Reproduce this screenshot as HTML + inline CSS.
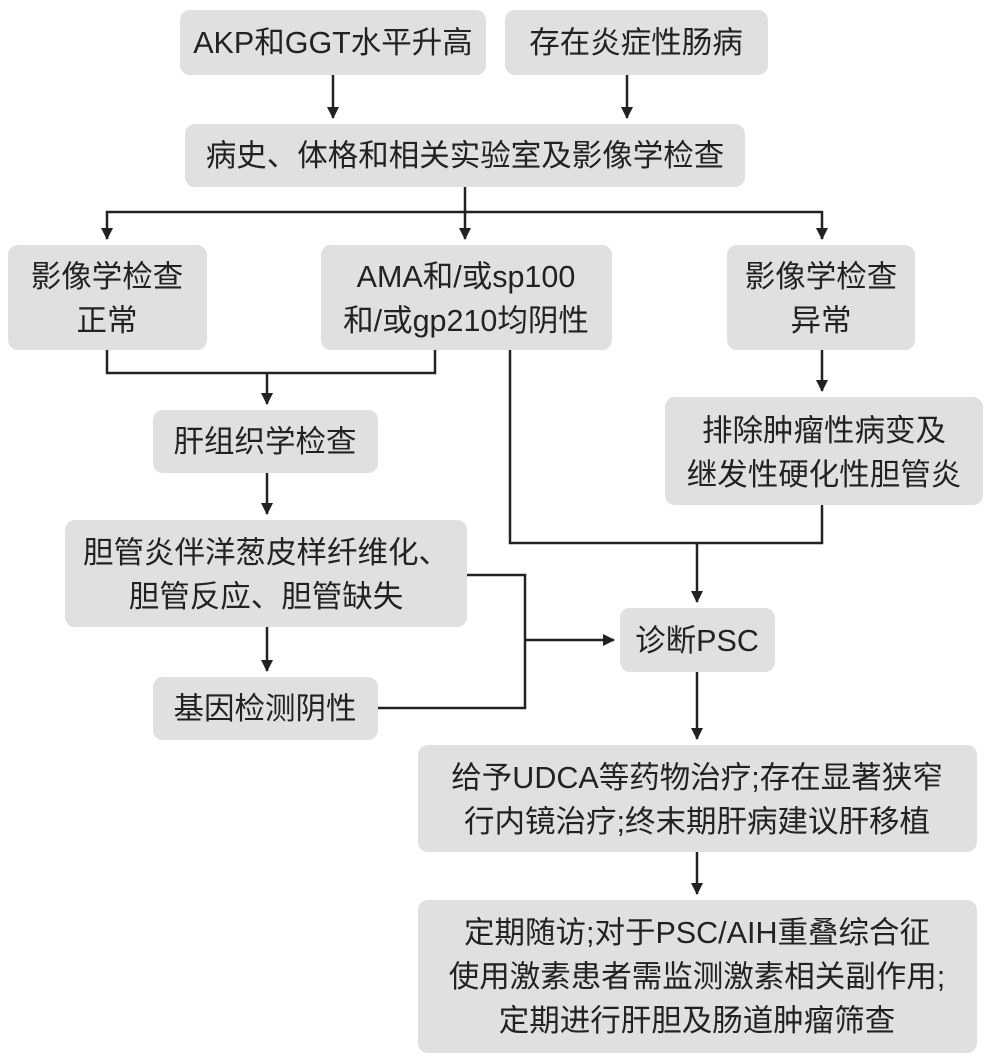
<!DOCTYPE html>
<html><head><meta charset="utf-8"><style>
html,body{margin:0;padding:0;background:#fff;}
svg{display:block;}
text{font-family:"Liberation Sans","Noto Sans CJK SC",sans-serif;font-size:30.5px;fill:#222;text-anchor:middle;}
rect{fill:#e0e0e0;}
</style></head><body>
<svg width="991" height="1063" viewBox="0 0 991 1063" xmlns="http://www.w3.org/2000/svg">
<defs><marker id="a" markerWidth="12" markerHeight="12" refX="11" refY="6" orient="auto" markerUnits="userSpaceOnUse"><path d="M0,0 L12,6 L0,12 z" fill="#222"/></marker></defs>
<rect x="180" y="10" width="306" height="65" rx="10"/>
<rect x="505" y="10" width="263" height="65" rx="10"/>
<rect x="185" y="124" width="560" height="63" rx="10"/>
<rect x="8" y="245" width="199" height="105" rx="10"/>
<rect x="321" y="245" width="291" height="105" rx="10"/>
<rect x="727" y="245" width="188" height="105" rx="10"/>
<rect x="153" y="410" width="225" height="63" rx="10"/>
<rect x="665" y="397" width="318" height="108" rx="10"/>
<rect x="65" y="520" width="402" height="107" rx="10"/>
<rect x="620" y="608" width="155" height="64" rx="10"/>
<rect x="153" y="677" width="225" height="63" rx="10"/>
<rect x="418" y="745" width="559" height="107" rx="10"/>
<rect x="418" y="900" width="559" height="153" rx="10"/>
<g fill="none" stroke="#222" stroke-width="2.5">
<path d="M333,75 V118" marker-end="url(#a)"/>
<path d="M627,75 V118" marker-end="url(#a)"/>
<path d="M465,187 V239" marker-end="url(#a)"/>
<path d="M107,239 V212 H822 V239" />
<path d="M107,228 V239" marker-end="url(#a)"/>
<path d="M822,228 V239" marker-end="url(#a)"/>
<path d="M107,350 V373 H435 V350"/>
<path d="M267,373 V404" marker-end="url(#a)"/>
<path d="M822,350 V391" marker-end="url(#a)"/>
<path d="M510,350 V543 H822 V505"/>
<path d="M697,543 V602" marker-end="url(#a)"/>
<path d="M267,473 V514" marker-end="url(#a)"/>
<path d="M267,627 V671" marker-end="url(#a)"/>
<path d="M467,575 H525 V708 H378"/>
<path d="M525,640 H614" marker-end="url(#a)"/>
<path d="M697,672 V739" marker-end="url(#a)"/>
<path d="M697,852 V894" marker-end="url(#a)"/>
</g>
<text x="333" y="53">AKP和GGT水平升高</text>
<text x="636" y="53">存在炎症性肠病</text>
<text x="465" y="166">病史、体格和相关实验室及影像学检查</text>
<text x="107" y="287">影像学检查</text>
<text x="107" y="331">正常</text>
<text x="466" y="287">AMA和/或sp100</text>
<text x="466" y="331">和/或gp210均阴性</text>
<text x="821" y="287">影像学检查</text>
<text x="821" y="331">异常</text>
<text x="265" y="452">肝组织学检查</text>
<text x="824" y="441">排除肿瘤性病变及</text>
<text x="824" y="485">继发性硬化性胆管炎</text>
<text x="266" y="563">胆管炎伴洋葱皮样纤维化、</text>
<text x="266" y="607">胆管反应、胆管缺失</text>
<text x="697" y="651">诊断PSC</text>
<text x="265" y="719">基因检测阴性</text>
<text x="697" y="788">给予UDCA等药物治疗;存在显著狭窄</text>
<text x="697" y="832">行内镜治疗;终末期肝病建议肝移植</text>
<text x="697" y="943">定期随访;对于PSC/AIH重叠综合征</text>
<text x="697" y="987">使用激素患者需监测激素相关副作用;</text>
<text x="697" y="1031">定期进行肝胆及肠道肿瘤筛查</text>
</svg>
</body></html>
